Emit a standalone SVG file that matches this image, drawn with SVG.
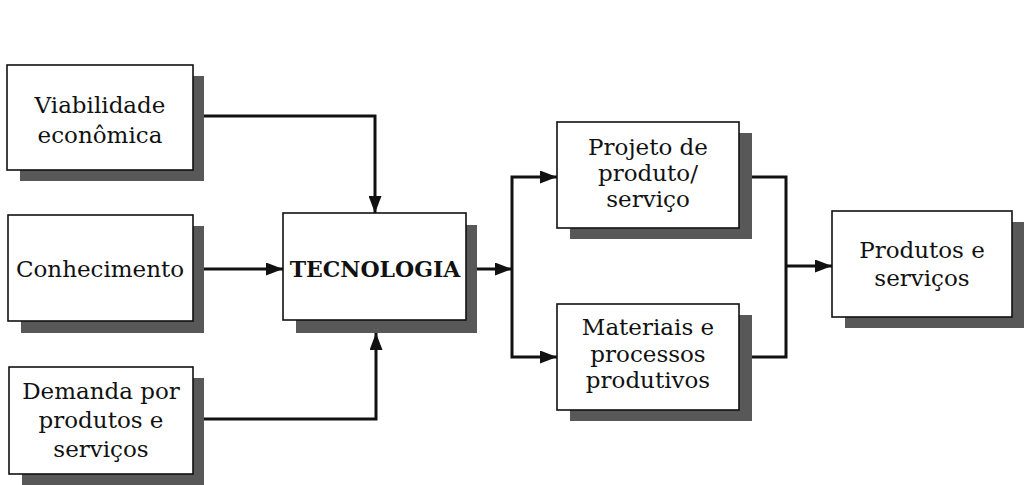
<svg xmlns="http://www.w3.org/2000/svg" width="1026" height="485" viewBox="0 0 1026 485">
  <style>
    .box { fill: #ffffff; stroke: #111111; stroke-width: 1.6; }
    .shadow { fill: #585858; }
    .label { font-family: "DejaVu Serif", "Liberation Serif", serif; font-size: 23px; fill: #111111; text-anchor: middle; }
    .bold { font-weight: bold; font-size: 22px; }
    .wire { fill: none; stroke: #111111; stroke-width: 3; }
  </style>
  <defs>
    <marker id="arrow" markerUnits="userSpaceOnUse" markerWidth="17" markerHeight="13" refX="17" refY="6.5" orient="auto">
      <path d="M0,0 L17,6.5 L0,13 z" fill="#111111"/>
    </marker>
  </defs>
  <rect width="1026" height="485" fill="#ffffff"/>

  <!-- connectors -->
  <g id="connectors">
    <path class="wire" d="M204,116 H375 V213" marker-end="url(#arrow)"/>
    <path class="wire" d="M204,269 H283" marker-end="url(#arrow)"/>
    <path class="wire" d="M204,419 H376 V333" marker-end="url(#arrow)"/>
    <path class="wire" d="M477,269 H512" marker-end="url(#arrow)"/>
    <path class="wire" d="M512,269 V177 H557" marker-end="url(#arrow)"/>
    <path class="wire" d="M512,269 V357 H557" marker-end="url(#arrow)"/>
    <path class="wire" d="M752,177 H786 V357 H752"/>
    <path class="wire" d="M786,266 H832" marker-end="url(#arrow)"/>
  </g>

  <g id="viabilidade">
    <rect class="shadow" x="20" y="76" width="184" height="105"/>
    <rect class="box" x="7" y="65" width="186" height="105"/>
    <text class="label" x="100" y="113">Viabilidade</text>
    <text class="label" x="100" y="143">econômica</text>
  </g>

  <g id="conhecimento">
    <rect class="shadow" x="21" y="226" width="183" height="107"/>
    <rect class="box" x="8" y="215" width="185" height="106"/>
    <text class="label" x="100" y="277">Conhecimento</text>
  </g>

  <g id="demanda">
    <rect class="shadow" x="22" y="378" width="182" height="107"/>
    <rect class="box" x="9" y="367" width="184" height="107"/>
    <text class="label" x="101" y="399">Demanda por</text>
    <text class="label" x="101" y="428">produtos e</text>
    <text class="label" x="101" y="457">serviços</text>
  </g>

  <g id="tecnologia">
    <rect class="shadow" x="296" y="225" width="181" height="108"/>
    <rect class="box" x="283" y="213" width="183" height="107"/>
    <text class="label bold" x="375" y="277">TECNOLOGIA</text>
  </g>

  <g id="projeto">
    <rect class="shadow" x="570" y="133" width="182" height="106"/>
    <rect class="box" x="557" y="122" width="182" height="106"/>
    <text class="label" x="648" y="155">Projeto de</text>
    <text class="label" x="648" y="181">produto/</text>
    <text class="label" x="648" y="207">serviço</text>
  </g>

  <g id="materiais">
    <rect class="shadow" x="570" y="315" width="182" height="106"/>
    <rect class="box" x="557" y="304" width="182" height="106"/>
    <text class="label" x="648" y="335">Materiais e</text>
    <text class="label" x="648" y="362">processos</text>
    <text class="label" x="648" y="388">produtivos</text>
  </g>

  <g id="produtos">
    <rect class="shadow" x="845" y="222" width="179" height="106"/>
    <rect class="box" x="832" y="211" width="180" height="106"/>
    <text class="label" x="922" y="258">Produtos e</text>
    <text class="label" x="922" y="286">serviços</text>
  </g>
</svg>
